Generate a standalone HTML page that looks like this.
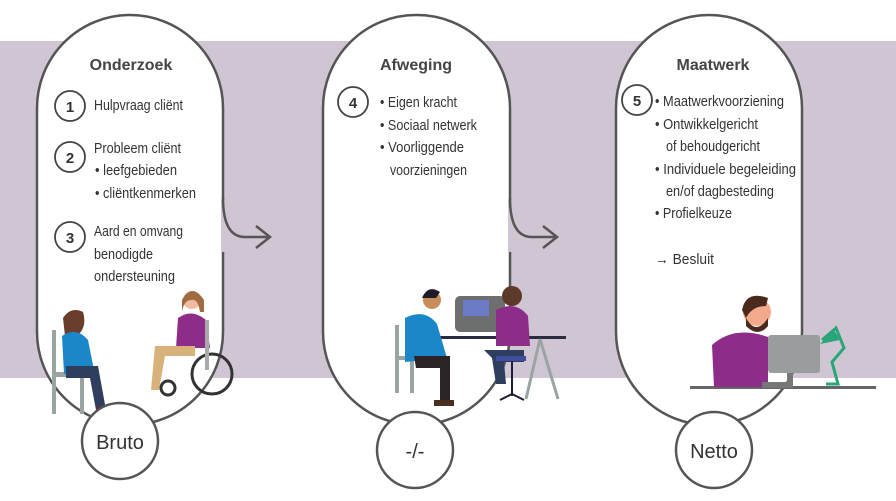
<!DOCTYPE html>
<html><head><meta charset="utf-8"><style>
body{margin:0;background:#fff}
svg{display:block}
text{font-family:"Liberation Sans",sans-serif;fill:#333}
.t{font-size:16px;font-weight:bold;fill:#444}
.i{font-size:15px}
</style></head><body>
<svg width="896" height="501" viewBox="0 0 896 501" xmlns="http://www.w3.org/2000/svg">
<rect x="0" y="41" width="896" height="337" fill="#cfc5d3"/>
<g fill="#fff" stroke="#555" stroke-width="2.5">
<rect x="37" y="15" width="186" height="410" rx="93"/>
<rect x="323" y="15" width="187" height="410" rx="93"/>
<rect x="616" y="15" width="186" height="410" rx="93"/>
</g>
<!-- connector gaps and arrows -->
<rect x="219" y="200" width="8" height="52" fill="#cfc5d3"/>
<rect x="506" y="200" width="8" height="52" fill="#cfc5d3"/>
<rect x="214" y="200" width="7" height="52" fill="#fff"/>
<rect x="501" y="200" width="7" height="52" fill="#fff"/>
<g fill="none" stroke="#555" stroke-width="2.5">
<path d="M223 198 Q223 237 245 237 H269 M256 226 L270 237 L256 248"/>
<path d="M510 198 Q510 237 532 237 H556 M543 226 L557 237 L543 248"/>
</g>
<text class="t" x="131" y="70" text-anchor="middle">Onderzoek</text>
<text class="t" x="416" y="70" text-anchor="middle">Afweging</text>
<text class="t" x="713" y="70" text-anchor="middle">Maatwerk</text>
<g fill="none" stroke="#444" stroke-width="1.8">
<circle cx="70" cy="106" r="15"/><circle cx="70" cy="157" r="15"/><circle cx="70" cy="237" r="15"/>
<circle cx="353" cy="102" r="15"/><circle cx="637" cy="100" r="15"/>
</g>
<g font-size="15" font-weight="bold" text-anchor="middle" style="font-family:'Liberation Sans',sans-serif">
<text x="70" y="112">1</text><text x="70" y="163">2</text><text x="70" y="243">3</text>
<text x="353" y="108">4</text><text x="637" y="106">5</text>
</g>
<g class="i">
<text x="94" y="110" textLength="89" lengthAdjust="spacingAndGlyphs">Hulpvraag cliënt</text>
<text x="94" y="153" textLength="87" lengthAdjust="spacingAndGlyphs">Probleem cliënt</text>
<text x="95" y="175" textLength="82" lengthAdjust="spacingAndGlyphs">• leefgebieden</text>
<text x="95" y="198" textLength="101" lengthAdjust="spacingAndGlyphs">• cliëntkenmerken</text>
<text x="94" y="236" textLength="89" lengthAdjust="spacingAndGlyphs">Aard en omvang</text>
<text x="94" y="259" textLength="59" lengthAdjust="spacingAndGlyphs">benodigde</text>
<text x="94" y="281" textLength="81" lengthAdjust="spacingAndGlyphs">ondersteuning</text>
<text x="380" y="107" textLength="77" lengthAdjust="spacingAndGlyphs">• Eigen kracht</text>
<text x="380" y="130" textLength="97" lengthAdjust="spacingAndGlyphs">• Sociaal netwerk</text>
<text x="380" y="152" textLength="84" lengthAdjust="spacingAndGlyphs">• Voorliggende</text>
<text x="390" y="175" textLength="77" lengthAdjust="spacingAndGlyphs">voorzieningen</text>
<text x="655" y="106" textLength="129" lengthAdjust="spacingAndGlyphs">• Maatwerkvoorziening</text>
<text x="655" y="129" textLength="103" lengthAdjust="spacingAndGlyphs">• Ontwikkelgericht</text>
<text x="666" y="151" textLength="94" lengthAdjust="spacingAndGlyphs">of behoudgericht</text>
<text x="655" y="174" textLength="141" lengthAdjust="spacingAndGlyphs">• Individuele begeleiding</text>
<text x="666" y="196" textLength="108" lengthAdjust="spacingAndGlyphs">en/of dagbesteding</text>
<text x="655" y="218" textLength="77" lengthAdjust="spacingAndGlyphs">• Profielkeuze</text>
<text x="655" y="264" textLength="59" lengthAdjust="spacingAndGlyphs">→ Besluit</text>
</g>
<!-- figures pill 1 -->
<g>
<rect x="52" y="330" width="4" height="84" fill="#9aa5a3"/><rect x="80" y="360" width="4" height="54" fill="#9aa5a3"/>
<rect x="52" y="372" width="40" height="5" fill="#9aa5a3"/>
<path d="M63 318 q8 -12 20 -6 q4 14 -4 22 l-14 2z" fill="#6b3e2c"/>
<path d="M62 336 q14 -10 26 4 l6 30 l-30 4z" fill="#1b87c9"/>
<path d="M66 366 h32 l8 44 h-10 l-6 -32 h-24z" fill="#2d3e5e"/>
<rect x="96" y="406" width="14" height="6" fill="#5a2a50"/>
<circle cx="192" cy="300" r="9" fill="#f2b8a0"/><path d="M182 300 q10 -18 22 0 v12 h-4 q-2 -14 -9 -12 q-7 0 -9 12z" fill="#a06b40"/>
<path d="M178 318 q14 -10 28 2 l4 28 h-34z" fill="#8e2c8a"/>
<path d="M155 346 h40 v10 h-30 l-6 34 h-8z" fill="#d7b27a"/>
<circle cx="212" cy="374" r="20" fill="none" stroke="#333" stroke-width="3"/>
<circle cx="168" cy="388" r="7" fill="none" stroke="#333" stroke-width="3"/>
<rect x="205" y="320" width="4" height="50" fill="#aaa"/>
</g>
<!-- figures pill 2 -->
<g>
<rect x="455" y="296" width="50" height="36" rx="5" fill="#6d6f6e"/><rect x="463" y="300" width="26" height="16" fill="#6c7bc6"/>
<rect x="440" y="336" width="126" height="3" fill="#2a2a40"/>
<path d="M540 339 l18 60 M540 339 l-14 60" stroke="#9aa5a3" stroke-width="3"/>
<path d="M397 325 v68 M412 348 v45 M397 358 h30" stroke="#9aa5a3" stroke-width="4"/>
<circle cx="432" cy="300" r="9" fill="#c98d5a"/><path d="M422 298 q6 -14 18 -6 l-4 6z" fill="#1d1d2a"/>
<path d="M405 318 q20 -10 32 6 l10 34 l-42 4z" fill="#1b87c9"/>
<path d="M414 356 h36 v46 h-10 v-34 h-24z" fill="#2a2426"/>
<rect x="434" y="400" width="20" height="6" fill="#4a2e20"/>
<circle cx="512" cy="296" r="10" fill="#5b3a2a"/>
<path d="M496 310 q20 -10 32 6 l2 30 h-34z" fill="#8e2c8a"/>
<path d="M484 350 h40 v12 h-20 l2 22 h-10 l-4 -26z" fill="#2d3e5e"/>
<rect x="496" y="356" width="30" height="5" fill="#3f4d9a"/><path d="M512 361 v35 M500 400 l12 -6 l12 6" stroke="#1d1d3a" stroke-width="2" fill="none"/>
</g>
<!-- figures pill 3 -->
<g>
<rect x="690" y="386" width="186" height="3" fill="#666"/>
<circle cx="757" cy="312" r="14" fill="#f2a98c"/>
<path d="M742 310 q4 -20 26 -12 l-2 8 q-14 0 -20 12z" fill="#4a2a1c"/><path d="M746 318 q10 18 22 0 v8 q-10 12 -22 0z" fill="#4a2a1c"/>
<path d="M712 345 q22 -20 56 -8 v50 h-54z" fill="#8e2c8a"/>
<rect x="768" y="335" width="52" height="38" rx="3" fill="#999d9e"/>
<path d="M790 373 v12 h-28" stroke="#777" stroke-width="6" fill="none"/>
<path d="M822 340 l14 -12 l8 20 l-12 14 l6 22 h-12" stroke="#2aa57a" stroke-width="3" fill="none"/>
<path d="M820 344 l14 -14 l6 10z" fill="#2aa57a"/>
</g>
<!-- bottom circles -->
<g fill="#fff" stroke="#555" stroke-width="2.5">
<circle cx="120" cy="441" r="38"/><circle cx="415" cy="450" r="38"/><circle cx="714" cy="450" r="38"/>
</g>
<g font-size="20" text-anchor="middle">
<text x="120" y="449">Bruto</text><text x="415" y="458">-/-</text><text x="714" y="458">Netto</text>
</g>
</svg>
</body></html>
